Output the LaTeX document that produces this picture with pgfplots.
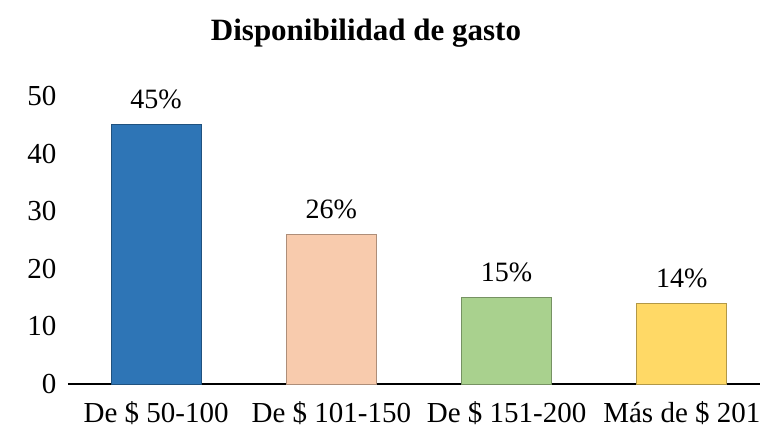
\documentclass[border=0pt]{standalone}
\usepackage{pgfplots}
\pgfplotsset{compat=1.18}
\usepackage{fontspec}
\setmainfont{Liberation Serif}
\definecolor{cblue}{HTML}{2E75B6}
\definecolor{cpeach}{HTML}{F8CBAD}
\definecolor{cgreen}{HTML}{A9D18E}
\definecolor{cyellow}{HTML}{FFD966}
\begin{document}
\begin{tikzpicture}
\begin{axis}[
  name=ax,
  scale only axis, width=692pt, height=288pt,
  xmin=-0.503, xmax=3.446, ymin=0, ymax=50,
  axis x line*=bottom, axis y line*=left,
  x axis line style={line width=1.6pt, black, -},
  y axis line style={draw=none},
  ytick={0,10,...,50},
  xtick={0,1,2,3},
  xticklabels={De \$ 50-100, De \$ 101-150, De \$ 151-200, Más de \$ 201},
  major tick length=0pt,
  tick label style={font=\fontsize{29}{34}\selectfont},
  /pgf/number format/assume math mode=true,
  yticklabel style={xshift=-8pt},
  xticklabel style={yshift=-14pt},
  ybar, bar width=90pt, bar shift=0pt,
  nodes near coords={\pgfmathprintnumber{\pgfplotspointmeta}\%},
  nodes near coords style={font=\fontsize{28}{33}\selectfont, yshift=12pt},
  clip=false,
]
\addplot[fill=cblue, draw=cblue!70!black, line width=1pt] coordinates {(0,45)};
\addplot[fill=cpeach, draw=cpeach!70!black, line width=1pt] coordinates {(1,26)};
\addplot[fill=cgreen, draw=cgreen!70!black, line width=1pt] coordinates {(2,15)};
\addplot[fill=cyellow, draw=cyellow!70!black, line width=1pt] coordinates {(3,14)};
\end{axis}
\node[font=\bfseries\fontsize{31}{36}\selectfont] at ([xshift=298pt,yshift=351pt]ax.south west) {Disponibilidad de gasto};
\pgfresetboundingbox
\path ([xshift=-68pt,yshift=384pt]ax.south west) rectangle ([xshift=692pt,yshift=-50pt]ax.south west);
\end{tikzpicture}
\end{document}
